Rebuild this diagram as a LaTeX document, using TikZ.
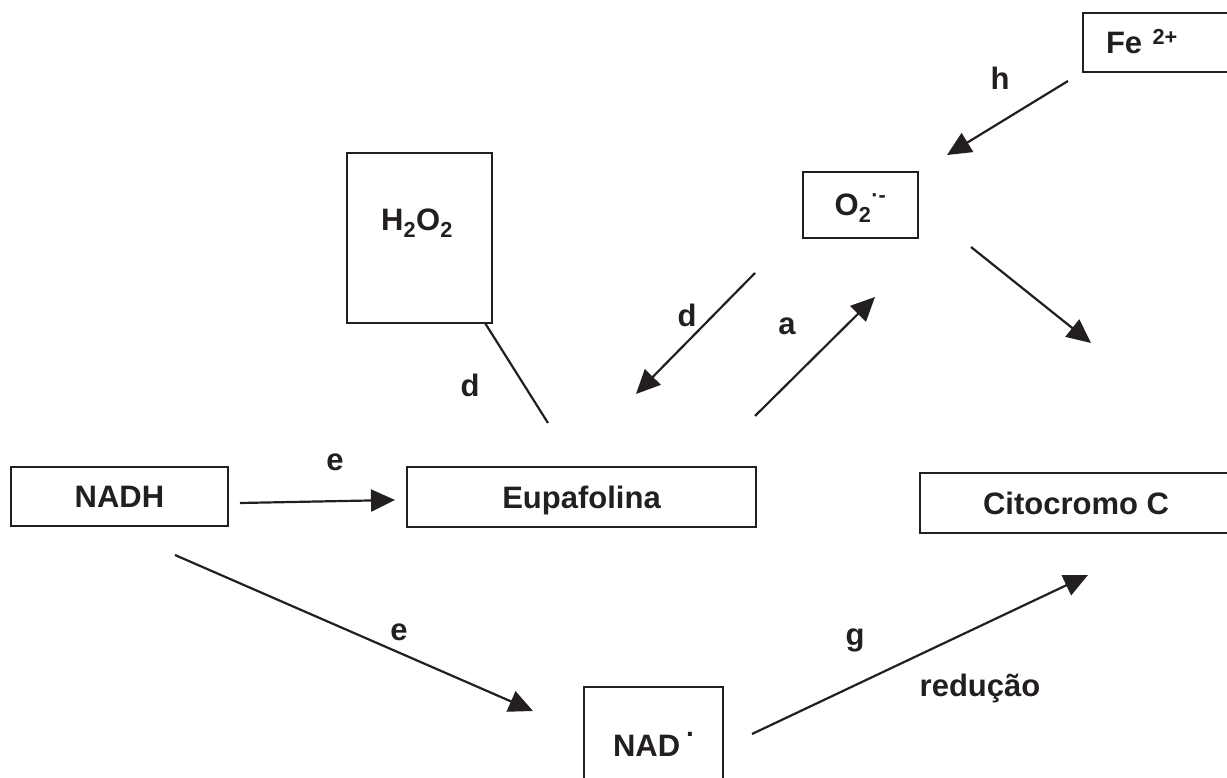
\documentclass[tikz,border=0pt]{standalone}
\usepackage{fontspec}
\setmainfont{Liberation Sans}
\usetikzlibrary{arrows.meta}
\definecolor{ink}{RGB}{35,31,32}
\begin{document}
\begin{tikzpicture}[x=1pt,y=-1pt,
  box/.style={draw=ink, text=ink, line width=2pt, font=\bfseries\fontsize{31}{37}\selectfont, inner sep=0pt, text height=22pt, text depth=0pt},
  lbl/.style={text=ink, font=\bfseries\fontsize{31}{37}\selectfont, inner sep=0pt},
  arr/.style={draw=ink, line width=2.2pt, -{Triangle[length=24pt,width=22pt]}},
  ln/.style={draw=ink, line width=2.2pt}]
\useasboundingbox (0,0) rectangle (1227,778);
\clip (0,0) rectangle (1227,778);
% boxes
\node[box, minimum width=217pt, minimum height=59pt] (nadh) at (119.5,496.5) {NADH};
\node[box, minimum width=349pt, minimum height=60pt] (eupa) at (581.5,497) {Eupafolina};
\node[box, minimum width=312pt, minimum height=60pt] (cito) at (1076,503) {Citocromo C};
\node[box, minimum width=145pt, minimum height=170pt] (h2o2) at (419.5,238) {};
\node[lbl] (h2o2t) at (417,223) {H\textsubscript{2}O\textsubscript{2}};
\node[box, minimum width=115pt, minimum height=66pt] (o2) at (860.5,205) {O\textsubscript{2}\smash{\raisebox{0.15em}{\textsuperscript{·-}}}\hspace{10pt}};
\node[box, anchor=north west, minimum height=59pt, text width=140pt, inner xsep=23pt, align=left] (fe) at (1082,12) {Fe \smash{\textsuperscript{2+}}};
\node[box, minimum width=139pt, minimum height=116pt] (nad) at (653.5,745) {NAD\hspace{6pt}\smash{\raisebox{0.62em}{\fontsize{28}{28}\selectfont.}}};
% connector end points
\coordinate (h1) at (1068,81);   \coordinate (h2) at (947,155);
\coordinate (c1) at (971,247);   \coordinate (c2) at (1091,343);
\coordinate (d1) at (755,273);   \coordinate (d2) at (636,394);
\coordinate (a1) at (755,416);   \coordinate (a2) at (875,297);
\coordinate (w1) at (485,323);   \coordinate (w2) at (548,423);
\coordinate (e1) at (240,503);   \coordinate (e2) at (395,500);
\coordinate (f1) at (175,555);   \coordinate (f2) at (533,711);
\coordinate (g1) at (752,734);   \coordinate (g2) at (1088,575);
% connectors
\draw[arr] (h1) -- (h2);
\draw[arr] (c1) -- (c2);
\draw[arr] (d1) -- (d2);
\draw[arr] (a1) -- (a2);
\draw[ln]  (w1) -- (w2);
\draw[arr] (e1) -- (e2);
\draw[arr] (f1) -- (f2);
\draw[arr] (g1) -- (g2);
% labels
\node[lbl] (lh) at (1000,78) {h};
\node[lbl] (ld1) at (687,315) {d};
\node[lbl] (la) at (787,326) {a};
\node[lbl] (ld2) at (470,385) {d};
\node[lbl] (le1) at (335,462) {e};
\node[lbl] (le2) at (399,632) {e};
\node[lbl] (lg) at (855,640) {g};
\node[lbl] (lr) at (980,688) {redução};
\end{tikzpicture}
\end{document}
